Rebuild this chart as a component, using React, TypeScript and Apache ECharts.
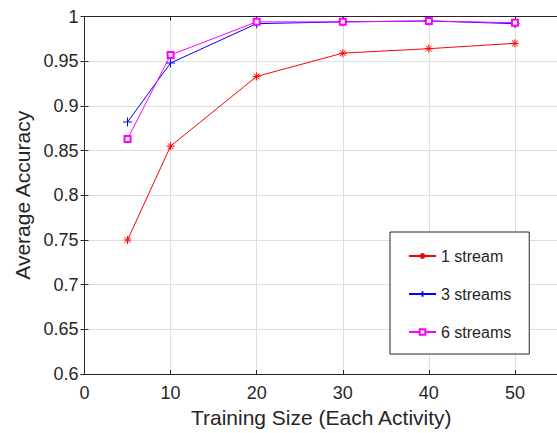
import React, { useEffect, useRef } from "react";
import * as echarts from "echarts";

const trainingSize = [5, 10, 20, 30, 40, 50];
const oneStream = [0.750, 0.855, 0.933, 0.959, 0.964, 0.970];
const threeStreams = [0.882, 0.948, 0.992, 0.994, 0.995, 0.992];
const sixStreams = [0.863, 0.957, 0.994, 0.994, 0.995, 0.993];
const seriesNames = ["1 stream", "3 streams", "6 streams"];
const xTitle = "Training Size (Each Activity)";
const yTitle = "Average Accuracy";

const AXIS = "#262626";
const GRID = "#dfdfdf";
const FONT = "Liberation Sans, Arial, Helvetica, sans-serif";

const STAR = "path://M0,-5L0,5M-5,0L5,0M-3.6,-3.6L3.6,3.6M-3.6,3.6L3.6,-3.6";
const PLUS = "path://M0,-5L0,5M-5,0L5,0";

export default function App() {
  const ref = useRef<HTMLDivElement>(null);
  useEffect(() => {
    if (!ref.current) return;
    const chart = echarts.init(ref.current, undefined, { renderer: "svg" });
    const pair = (ys: number[]) => trainingSize.map((x, i) => [x, ys[i]]);
    const mkSeries = (name: string, ys: number[], color: string, symbol: string, size: number) => ({
      name,
      type: "line",
      data: pair(ys),
      symbol,
      symbolSize: size,
      showAllSymbol: true,
      lineStyle: { color, width: 1 },
      itemStyle: { color, borderColor: color, borderWidth: 1 },
      emphasis: { disabled: true },
    });
    const xCommon = {
      type: "value",
      min: 0,
      max: 55,
      interval: 10,
      axisLine: { show: true, lineStyle: { color: AXIS, width: 1 } },
      axisTick: { show: true, inside: true, length: 4, lineStyle: { color: AXIS } },
    };
    const yCommon = {
      type: "value",
      min: 0.6,
      max: 1,
      interval: 0.05,
      axisLine: { show: true, lineStyle: { color: AXIS, width: 1 } },
      axisTick: { show: true, inside: true, length: 4, lineStyle: { color: AXIS } },
    };
    chart.setOption({
      animation: false,
      backgroundColor: "#ffffff",
      grid: { left: 84.5, top: 16.5, bottom: 57, right: 0, containLabel: false },
      legend: {
        orient: "vertical",
        left: 390,
        top: 232,
        padding: [16, 18, 14, 18],
        itemWidth: 27,
        itemHeight: 7,
        itemGap: 22,
        backgroundColor: "#ffffff",
        borderColor: AXIS,
        borderWidth: 1,
        borderRadius: 0,
        selectedMode: false,
        textStyle: { fontFamily: FONT, fontSize: 16, color: AXIS },
        data: seriesNames,
      },
      xAxis: [
        {
          ...xCommon,
          position: "bottom",
          name: xTitle,
          nameLocation: "middle",
          nameGap: 32,
          nameTextStyle: { fontFamily: FONT, fontSize: 21, color: AXIS },
          axisLabel: {
            fontFamily: FONT,
            fontSize: 18,
            color: AXIS,
            margin: 10,
            formatter: (v: number) => (v > 50 ? "" : String(v)),
          },
          splitLine: { show: true, lineStyle: { color: GRID, width: 1 } },
        },
        {
          ...xCommon,
          position: "top",
          axisLabel: { show: false },
          splitLine: { show: false },
        },
      ],
      yAxis: [
        {
          ...yCommon,
          position: "left",
          name: yTitle,
          nameLocation: "middle",
          nameGap: 47,
          nameTextStyle: { fontFamily: FONT, fontSize: 21, color: AXIS },
          axisLabel: {
            fontFamily: FONT,
            fontSize: 18,
            color: AXIS,
            margin: 6,
            formatter: (v: number) => String(+v.toFixed(2)),
          },
          splitLine: { show: true, lineStyle: { color: GRID, width: 1 } },
        },
        {
          ...yCommon,
          position: "right",
          axisLabel: { show: false },
          splitLine: { show: false },
        },
      ],
      series: [
        mkSeries(seriesNames[0], oneStream, "#ff0000", STAR, 8),
        mkSeries(seriesNames[1], threeStreams, "#0000ff", PLUS, 9),
        mkSeries(seriesNames[2], sixStreams, "#ff00ff", "emptyRect", 6),
      ],
    });
    return () => chart.dispose();
  }, []);
  return (
    <div style={{ position: "fixed", left: 0, top: 0, width: 557, height: 433, overflow: "hidden", background: "#fff" }}>
      <div ref={ref} style={{ width: 561, height: 433 }} />
    </div>
  );
}
